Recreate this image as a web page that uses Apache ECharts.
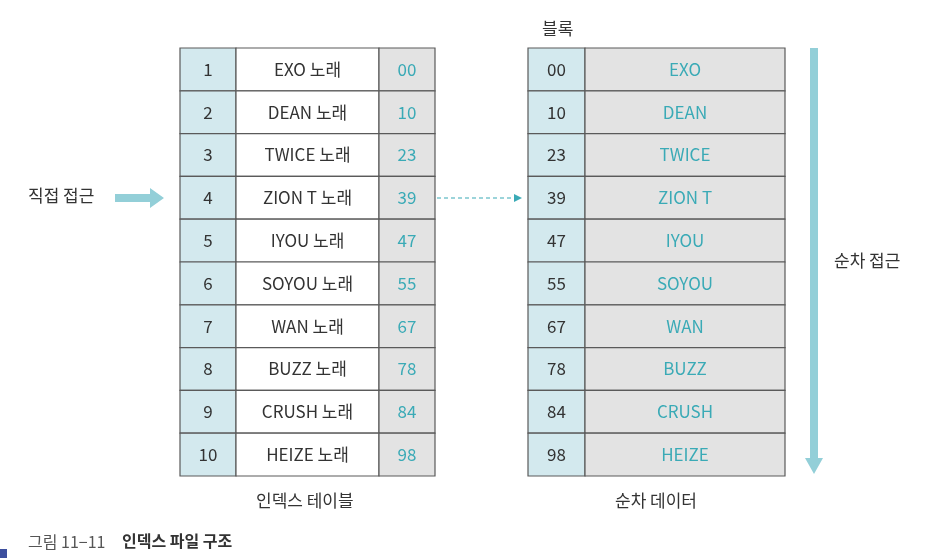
<!DOCTYPE html>
<html><head><meta charset="utf-8">
<script src="https://cdn.jsdelivr.net/npm/echarts@6/dist/echarts.min.js"></script>
<style>html,body{margin:0;background:#fff}#c{width:929px;height:558px}</style>
</head><body><div id="c"></div>
<script>
const rowNums = ['1','2','3','4','5','6','7','8','9','10'];
const songs = ['EXO 노래','DEAN 노래','TWICE 노래','ZION T 노래','IYOU 노래','SOYOU 노래','WAN 노래','BUZZ 노래','CRUSH 노래','HEIZE 노래'];
const keys = ['00','10','23','39','47','55','67','78','84','98'];
const blocks = ['00','10','23','39','47','55','67','78','84','98'];
const artists = ['EXO','DEAN','TWICE','ZION T','IYOU','SOYOU','WAN','BUZZ','CRUSH','HEIZE'];

const FONT = '"Noto Sans CJK KR", "Noto Sans", sans-serif';
const TOP = 48, ROWH = 42.8;
const BLUE = '#d3e9ee', GREY = '#e3e3e3', LINE = '#5a5a5a', TEAL = '#3aaab6', DARK = '#333';

function cell(api, x0, x1, y0, y1, fill, text, color) {
  const a = api.coord([x0, y0]), b = api.coord([x1, y1]);
  return {
    type: 'rect',
    shape: {x: a[0], y: a[1], width: b[0] - a[0], height: b[1] - a[1]},
    style: {fill: fill, stroke: LINE, lineWidth: 1.2},
    textContent: {style: {text: text, fill: color, font: '17px ' + FONT}},
    textConfig: {position: 'inside'}
  };
}

const chart = echarts.init(document.getElementById('c'));
chart.setOption({
  animation: false,
  grid: {left: 0, right: 0, top: 0, bottom: 0},
  xAxis: {type: 'value', min: 0, max: 929, show: false},
  yAxis: {type: 'value', min: 0, max: 558, inverse: true, show: false},
  series: [{
    type: 'custom',
    data: rowNums.map((n, i) => [i]),
    renderItem: (params, api) => {
      const i = api.value(0);
      const y0 = TOP + i * ROWH, y1 = y0 + ROWH;
      return {type: 'group', children: [
        cell(api, 180, 236, y0, y1, BLUE, rowNums[i], DARK),
        cell(api, 236, 379, y0, y1, '#fff', songs[i], DARK),
        cell(api, 379, 435, y0, y1, GREY, keys[i], TEAL),
        cell(api, 528, 585, y0, y1, BLUE, blocks[i], DARK),
        cell(api, 585, 785, y0, y1, GREY, artists[i], TEAL)
      ]};
    }
  }],
  graphic: [
    {type: 'text', left: 542, top: 20, style: {text: '블록', font: '17px ' + FONT, fill: DARK}},
    {type: 'text', left: 28, top: 187, style: {text: '직접 접근', font: '17px ' + FONT, fill: DARK}},
    {type: 'polygon', shape: {points: [[115,194],[150,194],[150,188],[164,198],[150,208],[150,202],[115,202]]}, style: {fill: '#93cfd8'}},
    {type: 'line', shape: {x1: 437, y1: 198, x2: 514, y2: 198}, style: {stroke: TEAL, lineWidth: 1.2, lineDash: [4, 3]}},
    {type: 'polygon', shape: {points: [[514,194],[522,198],[514,202]]}, style: {fill: TEAL}},
    {type: 'polygon', shape: {points: [[810,48],[818,48],[818,458],[823,458],[814,474],[805,458],[810,458]]}, style: {fill: '#93cfd8'}},
    {type: 'text', left: 834, top: 252, style: {text: '순차 접근', font: '17px ' + FONT, fill: DARK}},
    {type: 'text', left: 256, top: 492, style: {text: '인덱스 테이블', font: '17px ' + FONT, fill: DARK}},
    {type: 'text', left: 615, top: 492, style: {text: '순차 데이터', font: '17px ' + FONT, fill: DARK}},
    {type: 'text', left: 28, top: 534, style: {text: '그림 11−11', font: '16px ' + FONT, fill: '#555'}},
    {type: 'text', left: 122, top: 533, style: {text: '인덱스 파일 구조', font: 'bold 16px ' + FONT, fill: '#333'}},
    {type: 'rect', shape: {x: 0, y: 549, width: 7, height: 9}, style: {fill: '#3d4f9e'}}
  ]
});
</script></body></html>
